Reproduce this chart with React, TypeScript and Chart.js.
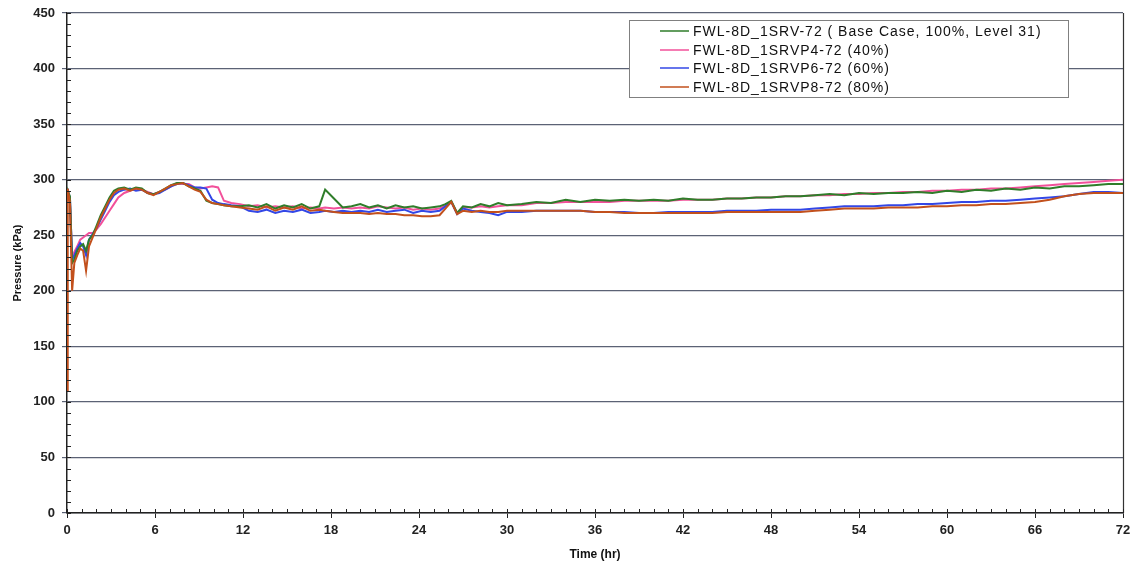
import React, { useEffect, useRef } from "react";
import { Chart, registerables } from "chart.js";

Chart.register(...registerables);

const seriesLabels = [
  "FWL-8D_1SRV-72 ( Base Case, 100%, Level 31)",
  "FWL-8D_1SRVP4-72 (40%)",
  "FWL-8D_1SRVP6-72 (60%)",
  "FWL-8D_1SRVP8-72 (80%)",
];
const seriesColors = ["#2f7d2a", "#f2509a", "#3347e6", "#c2501c"];

const hours = [
  0, 0.05, 0.2, 0.35, 0.5, 0.7, 0.9, 1.1, 1.3, 1.5, 1.75, 2.0, 2.3, 2.6, 2.9, 3.2, 3.5, 3.9, 4.3, 4.7,
  5.1, 5.5, 5.9, 6.3, 6.7, 7.1, 7.5, 7.9, 8.3, 8.7, 9.1, 9.5, 9.9, 10.3, 10.7, 11.2, 11.8,
  12.4, 13.0, 13.6, 14.2, 14.8, 15.4, 16.0, 16.6, 17.2, 17.6, 18.2, 18.8, 19.4, 20.0, 20.6, 21.2,
  21.8, 22.4, 23.0, 23.6, 24.2, 24.8, 25.4, 25.8, 26.2, 26.6, 27.0, 27.6, 28.2, 28.8, 29.4, 30.0,
  31, 32, 33, 34, 35, 36, 37, 38, 39, 40, 41, 42, 43, 44, 45, 46, 47, 48, 49, 50, 51, 52, 53, 54,
  55, 56, 57, 58, 59, 60, 61, 62, 63, 64, 65, 66, 67, 68, 69, 70, 71, 72,
];

const baseCase = [
  288, 290, 285, 225, 228, 236, 240, 242, 236, 246, 250, 258, 268, 276, 284, 290, 292, 293, 291, 293,
  292, 288, 287, 289, 292, 295, 297, 297, 294, 292, 290, 281, 279, 278, 277, 276, 276,
  277, 275, 278, 274, 277, 275, 278, 274, 276, 291, 283, 275, 276, 278, 275, 277,
  274, 277, 275, 276, 274, 275, 276, 278, 281, 270, 276, 275, 278, 276, 279, 277,
  278, 280, 279, 282, 280, 282, 281, 282, 281, 282, 281, 283, 282, 282, 283, 283, 284, 284, 285, 285,
  286, 287, 286, 288, 287, 288, 288, 289, 288, 290, 289, 291, 290, 292, 291, 293, 292, 294, 294, 295,
  296, 296,
];

const p40 = [
  290, 288, 282, 230, 235, 240, 246, 248, 250, 252, 252, 255, 260, 266, 272, 278, 284, 288, 290, 292,
  291, 289, 287, 289, 291, 294, 297, 296, 296, 293, 292, 293, 294, 293, 281, 279, 278,
  276, 277, 275, 276, 275, 276, 274, 275, 274, 275, 274, 275, 274, 275, 274, 276,
  275, 274, 275, 273, 274, 273, 274, 277, 280, 270, 275, 275, 276, 275, 276, 277,
  277, 279, 279, 280, 280, 280, 280, 281, 281, 281, 281, 282, 282, 282, 283, 283, 284, 284, 285, 285,
  286, 286, 287, 287, 288, 288, 289, 289, 290, 290, 291, 291, 292, 292, 293, 294, 295, 296, 297, 298,
  299, 300,
];

const p60 = [
  292, 290, 284, 228, 232, 238, 243, 240, 232, 246, 251, 256, 264, 272, 280, 286, 289, 291, 292, 290,
  291, 288, 287, 288, 291, 294, 296, 297, 295, 293, 293, 292, 282, 279, 278, 277, 276,
  272, 271, 273, 270, 272, 271, 273, 270, 271, 272, 271, 272, 271, 272, 271, 273,
  271, 272, 273, 270, 272, 271, 272, 276, 280, 269, 274, 272, 271, 270, 268, 271,
  271, 272, 272, 272, 272, 271, 271, 271, 270, 270, 271, 271, 271, 271, 272, 272, 272, 273, 273, 273,
  274, 275, 276, 276, 276, 277, 277, 278, 278, 279, 280, 280, 281, 281, 282, 283, 284, 285, 287, 289,
  289, 288,
];

const p80 = [
  110, 292, 280, 200, 225, 232, 238, 236, 218, 240, 248, 256, 266, 274, 282, 288, 291, 292, 290, 292,
  291, 288, 286, 289, 292, 295, 296, 297, 294, 291, 289, 282, 279, 278, 277, 276, 275,
  274, 273, 276, 272, 275, 273, 276, 272, 273, 272, 271, 270, 270, 270, 269, 270,
  269, 269, 268, 268, 267, 267, 268, 274, 280, 269, 272, 271, 272, 271, 271, 272,
  272, 272, 272, 272, 272, 271, 271, 270, 270, 270, 270, 270, 270, 270, 271, 271, 271, 271, 271, 271,
  272, 273, 274, 274, 274, 275, 275, 275, 276, 276, 277, 277, 278, 278, 279, 280, 282, 285, 287, 288,
  288, 288,
];

const seriesValues = [baseCase, p40, p60, p80];
const xTicks = [0, 6, 12, 18, 24, 30, 36, 42, 48, 54, 60, 66, 72];
const yTicks = [0, 50, 100, 150, 200, 250, 300, 350, 400, 450];

const FONT = '"Liberation Sans", Arial, sans-serif';

const decorPlugin = {
  id: "decor",
  afterDraw(chart: any) {
    const { ctx, chartArea } = chart;
    const xs = chart.scales.x;
    const ys = chart.scales.y;
    ctx.save();
    // right border
    ctx.strokeStyle = "#333";
    ctx.lineWidth = 1.2;
    ctx.beginPath();
    ctx.moveTo(Math.round(chartArea.right) + 0.5, chartArea.top);
    ctx.lineTo(Math.round(chartArea.right) + 0.5, chartArea.bottom);
    ctx.stroke();
    // minor ticks
    ctx.strokeStyle = "#222";
    ctx.lineWidth = 1;
    ctx.beginPath();
    for (let h = 0; h <= 72; h += 1) {
      const px = Math.round(xs.getPixelForValue(h)) + 0.5;
      ctx.moveTo(px, chartArea.bottom);
      ctx.lineTo(px, chartArea.bottom - 4);
    }
    for (let v = 0; v <= 450; v += 10) {
      const py = Math.round(ys.getPixelForValue(v)) + 0.5;
      ctx.moveTo(chartArea.left, py);
      ctx.lineTo(chartArea.left + 4, py);
    }
    ctx.stroke();

    // legend
    const bx = 629.5, by = 20.5, bw = 439, bh = 77;
    ctx.fillStyle = "#ffffff";
    ctx.fillRect(bx, by, bw, bh);
    ctx.strokeStyle = "#808080";
    ctx.lineWidth = 1;
    ctx.strokeRect(bx, by, bw, bh);
    ctx.font = `14px ${FONT}`;
    try {
      (ctx as any).letterSpacing = "1px";
    } catch (e) {}
    ctx.textBaseline = "middle";
    ctx.textAlign = "left";
    const rows = [31, 50, 68, 87];
    seriesLabels.forEach((lab, i) => {
      ctx.strokeStyle = seriesColors[i];
      ctx.lineWidth = 1.5;
      ctx.beginPath();
      ctx.moveTo(660, rows[i]);
      ctx.lineTo(689, rows[i]);
      ctx.stroke();
      ctx.fillStyle = "#111";
      ctx.fillText(lab, 693, rows[i] + 1);
    });
    ctx.restore();
  },
};

export default function App() {
  const ref = useRef<HTMLCanvasElement | null>(null);
  useEffect(() => {
    if (!ref.current) return;
    const datasets = seriesValues.map((vals, i) => ({
      label: seriesLabels[i],
      data: hours.map((h, k) => ({ x: h, y: vals[k] })),
      borderColor: seriesColors[i],
      backgroundColor: seriesColors[i],
      borderWidth: 2,
      pointRadius: 0,
      tension: 0,
      fill: false,
      order: [1, 3, 2, 0][i],
    }));
    const chart = new Chart(ref.current, {
      type: "line",
      data: { datasets },
      options: {
        animation: false,
        responsive: true,
        maintainAspectRatio: false,
        parsing: false as any,
        layout: { padding: { top: 13, right: 11, left: 0, bottom: 0 } },
        plugins: { legend: { display: false }, tooltip: { enabled: false } },
        scales: {
          x: {
            type: "linear",
            min: 0,
            max: 72,
            afterBuildTicks: (s: any) => {
              s.ticks = xTicks.map((v) => ({ value: v }));
            },
            afterFit: (s: any) => {
              s.height = 54;
              s.paddingLeft = 0;
              s.paddingRight = 0;
            },
            ticks: {
              autoSkip: false,
              maxRotation: 0,
              padding: 5,
              color: "#222",
              font: { family: FONT, size: 13, weight: "bold" },
            },
            grid: { drawOnChartArea: false, drawTicks: true, tickLength: 5, color: "#222" },
            border: { display: true, color: "#222", width: 1.5 },
            title: {
              display: true,
              text: "Time (hr)",
              color: "#111",
              font: { family: FONT, size: 12, weight: "bold" },
              padding: { top: 0, bottom: 5 },
            },
          },
          y: {
            type: "linear",
            min: 0,
            max: 450,
            afterBuildTicks: (s: any) => {
              s.ticks = yTicks.map((v) => ({ value: v }));
            },
            afterFit: (s: any) => {
              s.width = 67;
              s.paddingTop = 0;
              s.paddingBottom = 0;
            },
            ticks: {
              padding: 7,
              color: "#222",
              font: { family: FONT, size: 13, weight: "bold" },
            },
            grid: { drawOnChartArea: true, drawTicks: true, tickLength: 5, color: "#5b6275", lineWidth: 1.2 },
            border: { display: true, color: "#222", width: 1.5 },
            title: {
              display: true,
              text: "Pressure (kPa)",
              color: "#111",
              font: { family: FONT, size: 11, weight: "bold" },
              padding: { top: 11, bottom: 0 },
            },
          },
        },
      },
      plugins: [decorPlugin],
    });
    return () => chart.destroy();
  }, []);
  return (
    <div style={{ position: "absolute", left: 0, top: 0, width: 1134, height: 567, background: "#fff" }}>
      <canvas ref={ref} />
    </div>
  );
}
